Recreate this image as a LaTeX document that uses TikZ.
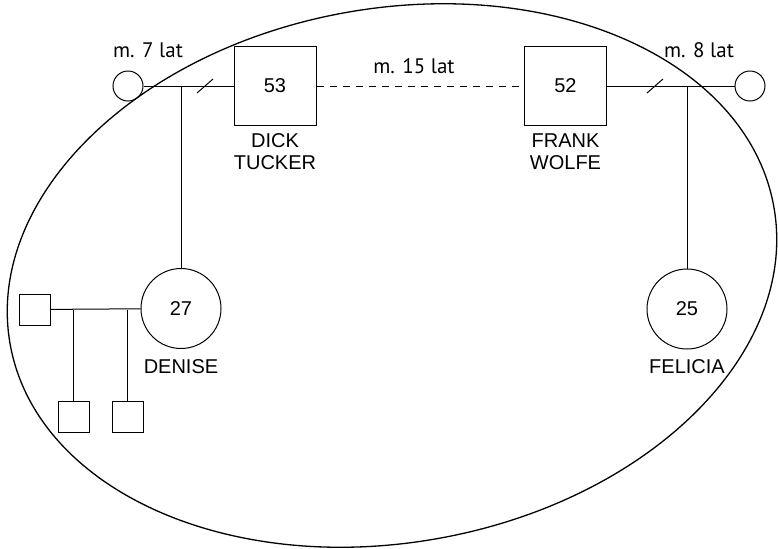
\documentclass[tikz,border=0pt]{standalone}
\usepackage{fontspec}
\setmainfont{Liberation Sans}
\newfontfamily\latfont{PT Sans}
\usetikzlibrary{positioning}

\begin{document}
\begin{tikzpicture}[
    x=0.5pt, y=-0.5pt,
    font=\fontsize{10}{11}\selectfont,
    line width=0.5pt,
    node distance=5pt,
    male/.style={draw, rectangle, inner sep=0pt, minimum width=41pt, minimum height=39.5pt},
    female/.style={draw, circle, inner sep=0pt, minimum size=15pt},
    kid/.style={draw, circle, inner sep=0pt, minimum size=40pt},
    grandson/.style={draw, rectangle, inner sep=0pt, minimum size=15.5pt},
    pname/.style={align=center, inner sep=0pt},
    wed/.style={font=\latfont\fontsize{10.5}{12}\selectfont, inner sep=0pt},
    divorce/.style={line width=0.5pt}
]
\useasboundingbox (0,0) rectangle (778,548);

% parents
\node[female] (wife1) at (128,86) {};
\node[male] (dick) at (275,86) {53};
\node[male] (frank) at (565.5,86) {52};
\node[female] (wife2) at (750,86) {};
\node[pname, below=3.5pt of dick] (dickname) {DICK\\TUCKER};
\node[pname, below=3.5pt of frank] (frankname) {FRANK\\WOLFE};

% children
\node[kid] (denise) at (181,308.5) {27};
\node[kid] (felicia) at (687,309) {25};
\node[pname, below=of denise] (denisename) {DENISE};
\node[pname, below=of felicia] (felicianame) {FELICIA};

% Denise's family
\node[grandson] (partner) at (34.5,309.5) {};
\node[grandson] (son1) at (73.5,416.5) {};
\node[grandson] (son2) at (127.5,416.5) {};

% marriage labels
\node[wed] at (148,50) {m. 7 lat};
\node[wed] at (414,66) {m. 15 lat};
\node[wed] at (699,50) {m. 8 lat};

% connectors
\draw (wife1) -- (dick);
\draw[dash pattern=on 3.5pt off 3pt] (dick) -- (frank);
\draw (frank) -- (wife2);
\draw (denise |- wife1) -- (denise);
\draw (felicia |- wife2) -- (felicia);
\draw (partner) -- (denise);
\draw (son1 |- partner) -- (son1);
\draw (son2 |- partner) -- (son2);

% divorce slashes
\coordinate (cut1) at (205,86);
\coordinate (cut2) at (655,86);
\draw[divorce] ([shift={(-8,7)}]cut1) -- ([shift={(8,-7)}]cut1);
\draw[divorce] ([shift={(-8,7)}]cut2) -- ([shift={(8,-7)}]cut2);

% household
\draw[line width=0.65pt, rotate around={10.3:(392,275.5)}] (392,275.5) ellipse [x radius=388, y radius=267];
\end{tikzpicture}
\end{document}
